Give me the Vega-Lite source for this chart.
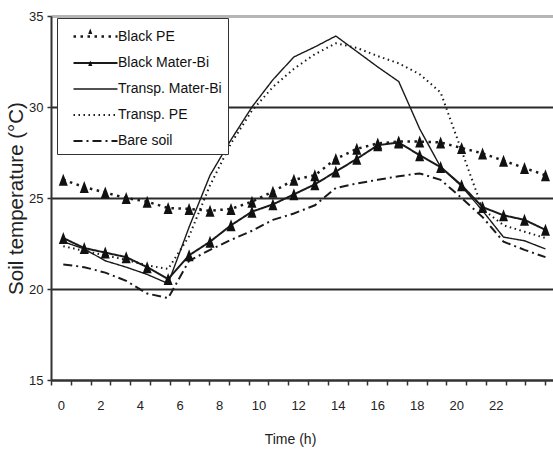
{
  "$schema": "https://vega.github.io/schema/vega-lite/v6.json",
  "autosize": {"type": "none"},
  "padding": {"left": 51, "top": 16, "right": 0, "bottom": 73},
  "width": 502,
  "height": 364,
  "background": "white",
  "config": {"view": {"stroke": null}},
  "datasets": {
    "temps": [
      {"hour":0,"series":"Black PE","temp":26.0},{"hour":1,"series":"Black PE","temp":25.6},{"hour":2,"series":"Black PE","temp":25.3},{"hour":3,"series":"Black PE","temp":25.0},{"hour":4,"series":"Black PE","temp":24.8},{"hour":5,"series":"Black PE","temp":24.45},{"hour":6,"series":"Black PE","temp":24.4},{"hour":7,"series":"Black PE","temp":24.3},{"hour":8,"series":"Black PE","temp":24.4},{"hour":9,"series":"Black PE","temp":24.8},{"hour":10,"series":"Black PE","temp":25.35},{"hour":11,"series":"Black PE","temp":26.0},{"hour":12,"series":"Black PE","temp":26.25},{"hour":13,"series":"Black PE","temp":27.15},{"hour":14,"series":"Black PE","temp":27.7},{"hour":15,"series":"Black PE","temp":28.0},{"hour":16,"series":"Black PE","temp":28.1},{"hour":17,"series":"Black PE","temp":28.1},{"hour":18,"series":"Black PE","temp":28.05},{"hour":19,"series":"Black PE","temp":27.75},{"hour":20,"series":"Black PE","temp":27.45},{"hour":21,"series":"Black PE","temp":27.05},{"hour":22,"series":"Black PE","temp":26.65},{"hour":23,"series":"Black PE","temp":26.25},
      {"hour":0,"series":"Black Mater-Bi","temp":22.8},{"hour":1,"series":"Black Mater-Bi","temp":22.25},{"hour":2,"series":"Black Mater-Bi","temp":22.0},{"hour":3,"series":"Black Mater-Bi","temp":21.75},{"hour":4,"series":"Black Mater-Bi","temp":21.2},{"hour":5,"series":"Black Mater-Bi","temp":20.55},{"hour":6,"series":"Black Mater-Bi","temp":21.85},{"hour":7,"series":"Black Mater-Bi","temp":22.6},{"hour":8,"series":"Black Mater-Bi","temp":23.5},{"hour":9,"series":"Black Mater-Bi","temp":24.25},{"hour":10,"series":"Black Mater-Bi","temp":24.65},{"hour":11,"series":"Black Mater-Bi","temp":25.2},{"hour":12,"series":"Black Mater-Bi","temp":25.75},{"hour":13,"series":"Black Mater-Bi","temp":26.45},{"hour":14,"series":"Black Mater-Bi","temp":27.15},{"hour":15,"series":"Black Mater-Bi","temp":27.9},{"hour":16,"series":"Black Mater-Bi","temp":28.05},{"hour":17,"series":"Black Mater-Bi","temp":27.35},{"hour":18,"series":"Black Mater-Bi","temp":26.7},{"hour":19,"series":"Black Mater-Bi","temp":25.7},{"hour":20,"series":"Black Mater-Bi","temp":24.5},{"hour":21,"series":"Black Mater-Bi","temp":24.05},{"hour":22,"series":"Black Mater-Bi","temp":23.8},{"hour":23,"series":"Black Mater-Bi","temp":23.25},
      {"hour":0,"series":"Transp. Mater-Bi","temp":22.6},{"hour":1,"series":"Transp. Mater-Bi","temp":22.2},{"hour":2,"series":"Transp. Mater-Bi","temp":21.55},{"hour":3,"series":"Transp. Mater-Bi","temp":21.2},{"hour":4,"series":"Transp. Mater-Bi","temp":20.8},{"hour":5,"series":"Transp. Mater-Bi","temp":20.3},{"hour":6,"series":"Transp. Mater-Bi","temp":23.4},{"hour":7,"series":"Transp. Mater-Bi","temp":26.25},{"hour":8,"series":"Transp. Mater-Bi","temp":28.2},{"hour":9,"series":"Transp. Mater-Bi","temp":30.0},{"hour":10,"series":"Transp. Mater-Bi","temp":31.5},{"hour":11,"series":"Transp. Mater-Bi","temp":32.75},{"hour":12,"series":"Transp. Mater-Bi","temp":33.3},{"hour":13,"series":"Transp. Mater-Bi","temp":33.9},{"hour":14,"series":"Transp. Mater-Bi","temp":33.05},{"hour":15,"series":"Transp. Mater-Bi","temp":32.2},{"hour":16,"series":"Transp. Mater-Bi","temp":31.4},{"hour":17,"series":"Transp. Mater-Bi","temp":28.8},{"hour":18,"series":"Transp. Mater-Bi","temp":26.7},{"hour":19,"series":"Transp. Mater-Bi","temp":25.65},{"hour":20,"series":"Transp. Mater-Bi","temp":24.3},{"hour":21,"series":"Transp. Mater-Bi","temp":22.85},{"hour":22,"series":"Transp. Mater-Bi","temp":22.65},{"hour":23,"series":"Transp. Mater-Bi","temp":22.2},
      {"hour":0,"series":"Transp. PE","temp":22.35},{"hour":1,"series":"Transp. PE","temp":22.1},{"hour":2,"series":"Transp. PE","temp":21.85},{"hour":3,"series":"Transp. PE","temp":21.6},{"hour":4,"series":"Transp. PE","temp":21.3},{"hour":5,"series":"Transp. PE","temp":21.1},{"hour":6,"series":"Transp. PE","temp":22.9},{"hour":7,"series":"Transp. PE","temp":25.7},{"hour":8,"series":"Transp. PE","temp":28.0},{"hour":9,"series":"Transp. PE","temp":29.8},{"hour":10,"series":"Transp. PE","temp":31.1},{"hour":11,"series":"Transp. PE","temp":32.1},{"hour":12,"series":"Transp. PE","temp":32.9},{"hour":13,"series":"Transp. PE","temp":33.5},{"hour":14,"series":"Transp. PE","temp":33.25},{"hour":15,"series":"Transp. PE","temp":32.8},{"hour":16,"series":"Transp. PE","temp":32.4},{"hour":17,"series":"Transp. PE","temp":31.8},{"hour":18,"series":"Transp. PE","temp":30.8},{"hour":19,"series":"Transp. PE","temp":27.6},{"hour":20,"series":"Transp. PE","temp":24.4},{"hour":21,"series":"Transp. PE","temp":23.5},{"hour":22,"series":"Transp. PE","temp":23.15},{"hour":23,"series":"Transp. PE","temp":22.8},
      {"hour":0,"series":"Bare soil","temp":21.35},{"hour":1,"series":"Bare soil","temp":21.2},{"hour":2,"series":"Bare soil","temp":20.9},{"hour":3,"series":"Bare soil","temp":20.45},{"hour":4,"series":"Bare soil","temp":19.75},{"hour":5,"series":"Bare soil","temp":19.5},{"hour":6,"series":"Bare soil","temp":21.55},{"hour":7,"series":"Bare soil","temp":22.15},{"hour":8,"series":"Bare soil","temp":22.7},{"hour":9,"series":"Bare soil","temp":23.2},{"hour":10,"series":"Bare soil","temp":23.8},{"hour":11,"series":"Bare soil","temp":24.15},{"hour":12,"series":"Bare soil","temp":24.6},{"hour":13,"series":"Bare soil","temp":25.55},{"hour":14,"series":"Bare soil","temp":25.8},{"hour":15,"series":"Bare soil","temp":26.0},{"hour":16,"series":"Bare soil","temp":26.2},{"hour":17,"series":"Bare soil","temp":26.35},{"hour":18,"series":"Bare soil","temp":26.0},{"hour":19,"series":"Bare soil","temp":25.0},{"hour":20,"series":"Bare soil","temp":23.95},{"hour":21,"series":"Bare soil","temp":22.6},{"hour":22,"series":"Bare soil","temp":22.15},{"hour":23,"series":"Bare soil","temp":21.75}
    ]
  },
  "data": {"name": "temps"},
  "resolve": {"scale": {"x": "independent"}},
  "layer": [
    {
      "mark": {"type": "point", "opacity": 0},
      "encoding": {
        "x": {
          "field": "hour", "type": "ordinal",
          "scale": {"type": "band", "domain": [0,1,2,3,4,5,6,7,8,9,10,11,12,13,14,15,16,17,18,19,20,21,22,23,24,25], "range": [0, 514], "paddingInner": 0, "paddingOuter": 0},
          "axis": {
            "title": "Time (h)", "titleX": 239, "titleFont": "Liberation Sans", "titleFontSize": 14, "titleFontWeight": "normal", "titleColor": "#222", "titlePadding": 20,
            "labelExpr": "datum.value % 2 == 0 && datum.value <= 22 ? datum.label : ''",
            "labelFont": "Liberation Sans", "labelFontSize": 13, "labelColor": "#222", "labelPadding": 14, "labelAngle": 0,
            "tickBand": "extent", "ticks": true, "tickSize": 5, "tickColor": "#333", "tickWidth": 1.5,
            "domain": true, "domainColor": "#333", "domainWidth": 2, "grid": false
          }
        }
      }
    },
    {
      "mark": {"type": "line", "color": "#1a1a1a"},
      "encoding": {
        "x": {"field": "hour", "type": "quantitative", "scale": {"domain": [-0.587, 23.36], "nice": false, "zero": false}, "axis": null},
        "y": {
          "field": "temp", "type": "quantitative",
          "scale": {"domain": [15, 35], "nice": false, "zero": false},
          "axis": {
            "title": "Soil temperature (°C)", "titleFont": "Liberation Sans", "titleFontSize": 20.5, "titleFontWeight": "normal", "titleColor": "#222", "titlePadding": 2,
            "values": [15, 20, 25, 30, 35],
            "labelFont": "Liberation Sans", "labelFontSize": 13, "labelColor": "#222", "labelPadding": 4,
            "tickSize": 4, "tickColor": "#333", "tickWidth": 1.5,
            "domainColor": "#333", "domainWidth": 2,
            "grid": true,
            "gridColor": {"condition": {"test": "datum.value == 35", "value": "#b5b5b5"}, "value": "#2a2a2a"},
            "gridWidth": {"condition": {"test": "datum.value == 35", "value": 3}, "value": 1.8}
          }
        },
        "strokeDash": {
          "field": "series", "type": "nominal",
          "scale": {"domain": ["Black PE", "Black Mater-Bi", "Transp. Mater-Bi", "Transp. PE", "Bare soil"], "range": [[2.5, 4.5], [1, 0], [1, 0], [1.5, 3.5], [9, 4, 2, 4]]},
          "legend": {
            "title": null, "orient": "none", "legendX": 6, "legendY": 2,
            "symbolType": "M-2,0L2,0", "symbolSize": 484, "symbolOffset": 20, "symbolStrokeColor": "#1a1a1a",
            "labelFont": "Liberation Sans", "labelFontSize": 14, "labelColor": "#111", "labelOffset": 10,
            "rowPadding": 7, "padding": 6, "strokeColor": "#333", "fillColor": "white"
          }
        },
        "strokeWidth": {
          "field": "series", "type": "nominal",
          "scale": {"type": "ordinal", "domain": ["Black PE", "Black Mater-Bi", "Transp. Mater-Bi", "Transp. PE", "Bare soil"], "range": [2.5, 2, 1.4, 2, 2]}
        }
      }
    },
    {
      "transform": [{"filter": {"field": "series", "oneOf": ["Black PE", "Black Mater-Bi"]}}],
      "mark": {"type": "point", "filled": true, "color": "#111", "opacity": 1, "size": 484},
      "encoding": {
        "x": {"field": "hour", "type": "quantitative", "scale": {"domain": [-0.587, 23.36], "nice": false, "zero": false}, "axis": null},
        "y": {"field": "temp", "type": "quantitative"},
        "shape": {
          "field": "series", "type": "nominal",
          "scale": {"domain": ["Black PE", "Black Mater-Bi"], "range": ["M0,-0.545L-0.41,0.545L0.41,0.545Z", "M0,-0.545L-0.41,0.545L0.41,0.545Z"]},
          "legend": {
            "title": null, "orient": "none", "legendX": 6, "legendY": 2, "zindex": 1,
            "symbolOffset": 20,
            "labelExpr": "''",
            "labelFont": "Liberation Sans", "labelFontSize": 14.5, "labelColor": "#111", "labelOffset": 9,
            "rowPadding": 17, "padding": 6, "strokeColor": "transparent", "fillColor": "transparent"
          }
        }
      }
    }
  ]
}
